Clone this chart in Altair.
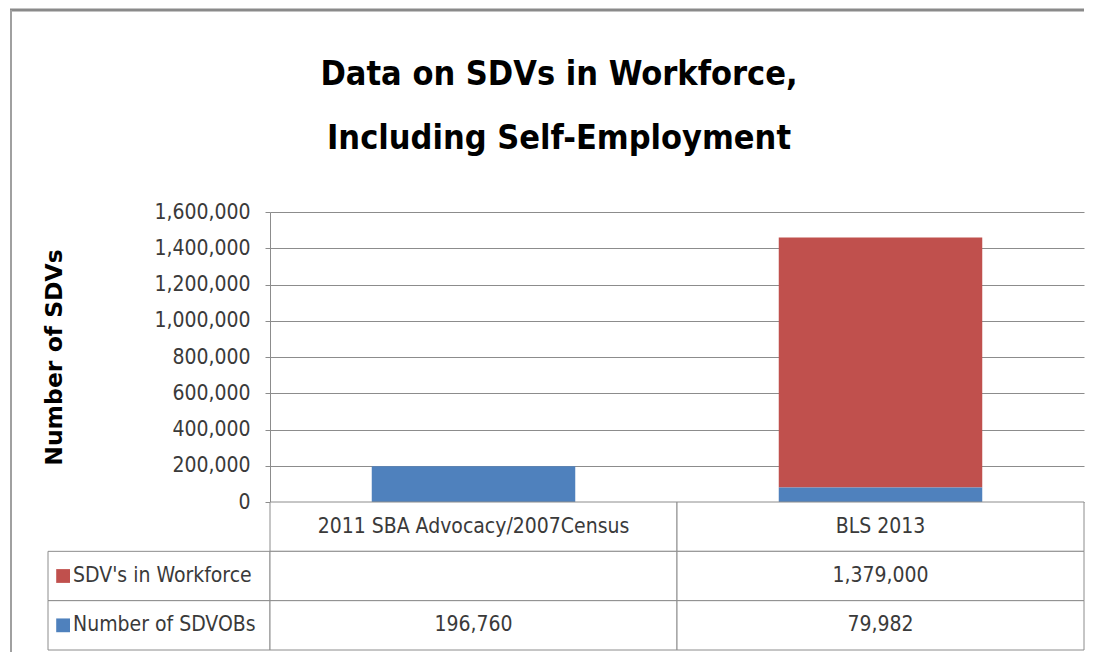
import altair as alt
import pandas as pd

# ---------------- data ----------------
title_lines = ["Data on SDVs in Workforce,", "Including Self-Employment"]
categories = ["2011 SBA Advocacy/2007Census", "BLS 2013"]
series = ["SDV's in Workforce", "Number of SDVOBs"]
sdv_workforce = [None, 1379000]
sdvobs = [196760, 79982]
y_ticks = [0, 200000, 400000, 600000, 800000, 1000000, 1200000, 1400000, 1600000]
series_colors = ["#C0504D", "#4F81BD"]
table_rows = ["header"] + series

FONT = "DejaVu Sans Condensed, Liberation Sans Narrow, sans-serif"
GRID = "#8c8c8c"
TEXT = "#3a3a3a"
BODY = 21

bar_records = []
for s, vals, order in [(series[0], sdv_workforce, 1), (series[1], sdvobs, 0)]:
    for c, v in zip(categories, vals):
        if v is not None:
            bar_records.append({"category": c, "series": s, "value": v, "stack_order": order})
bars_df = pd.DataFrame(bar_records)

table_records = [{"row": "header", "category": c, "text": c} for c in categories]
for s, vals in [(series[0], sdv_workforce), (series[1], sdvobs)]:
    for c, v in zip(categories, vals):
        table_records.append({"row": s, "category": c, "text": "" if v is None else f"{v:,}"})
table_df = pd.DataFrame(table_records)

label_df = pd.DataFrame({"row": series, "series": series, "col": ["label"] * len(series)})

color_scale = alt.Scale(domain=series, range=series_colors)
row_scale = alt.Scale(domain=table_rows, paddingInner=0, paddingOuter=0)

# ---------------- main bar chart ----------------
main = alt.Chart(bars_df).mark_bar().encode(
    x=alt.X("category:N", sort=categories, axis=None,
            scale=alt.Scale(domain=categories, paddingInner=0.5, paddingOuter=0.25)),
    y=alt.Y("value:Q", stack="zero",
            scale=alt.Scale(domain=[0, 1600000], nice=False),
            axis=alt.Axis(values=y_ticks, format=",.0f", title="Number of SDVs",
                          grid=True, gridColor=GRID, gridWidth=1,
                          domainColor=GRID, tickColor=GRID, tickSize=5,
                          labelFont=FONT, labelFontSize=BODY, labelColor=TEXT,
                          labelPadding=15,
                          titleFont="DejaVu Sans", titleFontSize=23.5, titleFontWeight="bold",
                          titleColor="black", titleAngle=-90, titleX=-216, titleY=145,
                          titleAlign="center", titleBaseline="middle")),
    color=alt.Color("series:N", scale=color_scale, legend=None),
    order=alt.Order("stack_order:Q"),
).properties(width=814, height=290)

# ---------------- data table ----------------
tx = alt.X("category:N", sort=categories, axis=None,
           scale=alt.Scale(domain=categories, paddingInner=0, paddingOuter=0))
ty = alt.Y("row:N", axis=None, scale=row_scale)
table_rect = alt.Chart(table_df).mark_rect(fill="white", stroke=GRID, strokeWidth=1).encode(x=tx, y=ty)
table_text = alt.Chart(table_df).mark_text(font=FONT, fontSize=BODY, color=TEXT).encode(
    x=tx, y=ty, text="text:N")
table = alt.layer(table_rect, table_text).properties(width=814, height=148)

# ---------------- table row labels ----------------
lx_scale = alt.Scale(domain=["label"], paddingInner=0, paddingOuter=0)
label_rect = alt.Chart(label_df).mark_rect(fill="white", stroke=GRID, strokeWidth=1).encode(
    x=alt.X("col:N", axis=None, scale=lx_scale), y=ty)
label_square = alt.Chart(label_df).mark_square(size=190, opacity=1).encode(
    x=alt.X("col:N", axis=None, scale=lx_scale, bandPosition=0.068), y=ty,
    color=alt.Color("series:N", scale=color_scale, legend=None))
label_text = alt.Chart(label_df).mark_text(font=FONT, fontSize=BODY, color=TEXT, align="left").encode(
    x=alt.X("col:N", axis=None, scale=lx_scale, bandPosition=0.113), y=ty, text="series:N")
labels = alt.layer(label_rect, label_square, label_text).properties(width=222, height=148)

# ---------------- top-left cell: chart-area frame and chart title ----------------
frame_df = pd.DataFrame({"v": [0]})
frame_top = alt.Chart(frame_df).mark_rule(color="#8a8a8a", strokeWidth=3).encode(
    x=alt.value(-38), x2=alt.value(1036), y=alt.value(-202))
frame_left = alt.Chart(frame_df).mark_rule(color="#a0a0a0", strokeWidth=2).encode(
    x=alt.value(-37), y=alt.value(-202), y2=alt.value(440))
title_1 = alt.Chart(pd.DataFrame({"t": [title_lines[0]]})).mark_text(
    font=FONT, fontSize=34, fontWeight="bold", color="black", align="center", baseline="alphabetic"
).encode(x=alt.value(511), y=alt.value(-127), text="t:N")
title_2 = alt.Chart(pd.DataFrame({"t": [title_lines[1]]})).mark_text(
    font=FONT, fontSize=34, fontWeight="bold", color="black", align="center", baseline="alphabetic"
).encode(x=alt.value(511), y=alt.value(-63), text="t:N")
spacer = alt.layer(frame_top, frame_left, title_1, title_2).properties(width=222, height=290)

chart = alt.concat(
    spacer, main, labels, table,
    columns=2, spacing=0, bounds="flush",
).properties(
    padding={"left": 0, "top": 0, "right": 0, "bottom": 0},
    background="white",
).configure_view(stroke="transparent")

chart.save("out.html", embed_options={"renderer": "svg", "actions": False})
